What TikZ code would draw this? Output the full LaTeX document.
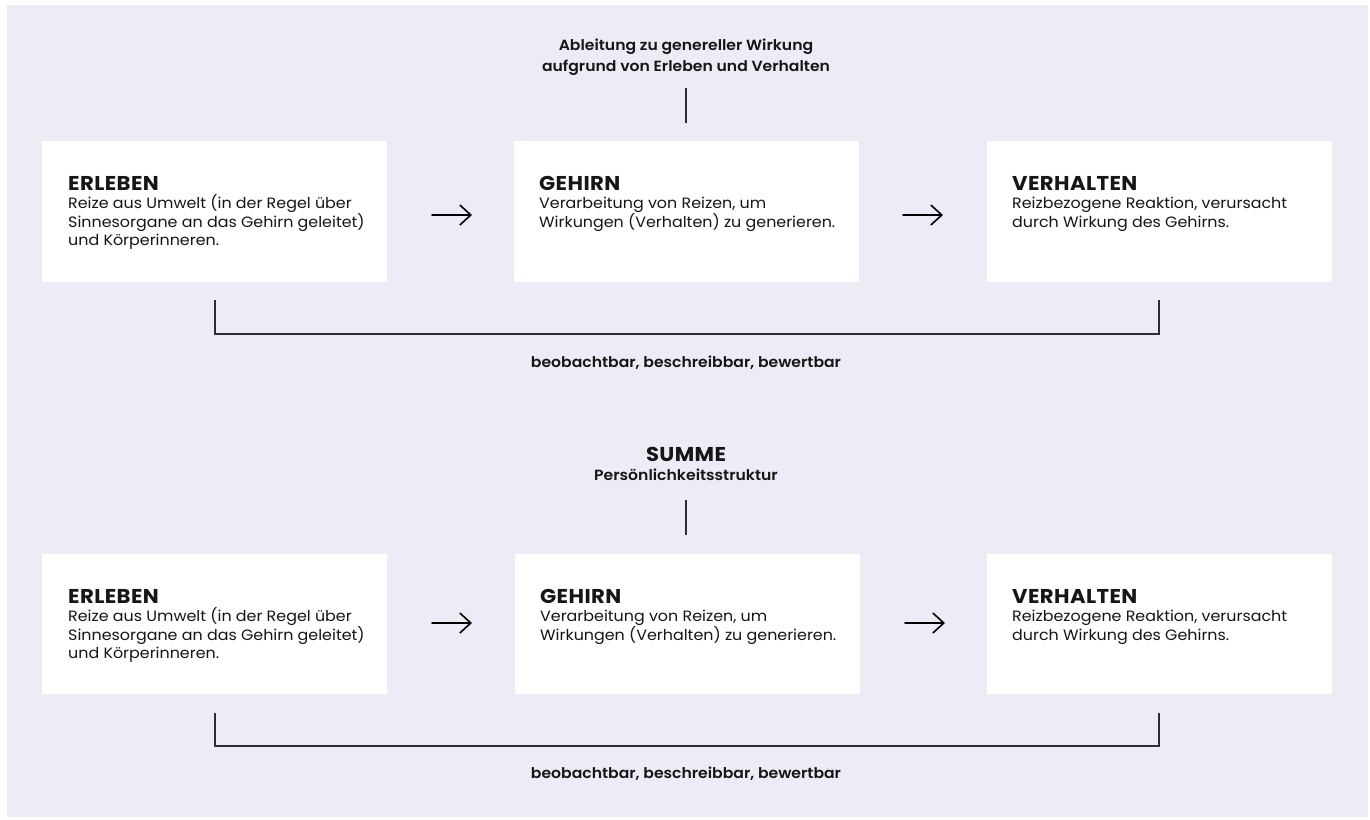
\documentclass[tikz,border=0pt]{standalone}
\usepackage{fontspec}
\setmainfont{Poppins}[FakeStretch=1.06]
\newfontfamily\semifont{Poppins SemiBold}[FakeStretch=1.06]
\usetikzlibrary{arrows.meta,calc}
\definecolor{bg}{RGB}{236,236,246}
\definecolor{ink}{RGB}{22,22,22}
\definecolor{rulec}{RGB}{45,45,50}

\tikzset{
  box/.style={fill=white, inner sep=0, minimum width=345pt, minimum height=141pt, anchor=north west},
  boxtext/.style={anchor=north west, inner sep=0, align=left, text=ink,
    font=\fontsize{15}{18.5}\selectfont},
  notetext/.style={align=center, inner sep=0, text=ink,
    font=\semifont\fontsize{14.75}{19}\selectfont},
  flow/.style={line width=1.6pt, -{Straight Barb[length=11pt,width=20pt]}, line cap=round},
  rulel/.style={line width=1.3pt, draw=rulec},
}
\newcommand\boxtitle[1]{\rule{0pt}{20pt}{\fontsize{20}{18.5}\selectfont\bfseries\addfontfeature{LetterSpace=2}#1}}

\begin{document}
\setlength\lineskiplimit{-30pt}
\begin{tikzpicture}[x=1pt,y=1pt]
  % canvas
  \useasboundingbox (0,0) rectangle (1370,-819);
  \fill[white] (0,0) rectangle (1370,-819);
  \fill[bg] (7,-5) rectangle (1368,-817);

  % ---------- upper row ----------
  \node[notetext, anchor=north] (abl) at (686,-35)
    {\rule{0pt}{15pt}Ableitung zu genereller Wirkung\\[2pt]aufgrund von Erleben und Verhalten};
  \coordinate (abltop) at (686,-88);
  \coordinate (ablbot) at (686,-123);
  \draw[rulel] (abltop) -- (ablbot);

  \node[box] (erl1) at (42,-141) {};
  \node[box] (geh1) at (514,-141) {};
  \node[box] (ver1) at (987,-141) {};

  \node[boxtext] (erl1t) at ($(erl1.north west)+(26,-29)$)
    {\boxtitle{ERLEBEN}\\Reize aus Umwelt (in der Regel über\\Sinnesorgane an das Gehirn geleitet)\\und Körperinneren.};
  \node[boxtext] (geh1t) at ($(geh1.north west)+(25,-29)$)
    {\boxtitle{GEHIRN}\\Verarbeitung von Reizen, um\\Wirkungen (Verhalten) zu generieren.};
  \node[boxtext] (ver1t) at ($(ver1.north west)+(25,-29)$)
    {\boxtitle{VERHALTEN}\\Reizbezogene Reaktion, verursacht\\durch Wirkung des Gehirns.};

  \coordinate (a1s) at (432,-215);
  \coordinate (a1e) at (472,-215);
  \coordinate (a2s) at (903,-215);
  \coordinate (a2e) at (943,-215);
  \draw[flow] (a1s) -- (a1e);
  \draw[flow] (a2s) -- (a2e);

  \coordinate (b1l) at (215,-300);
  \coordinate (b1r) at (1159,-300);
  \draw[rulel] (b1l) |- (b1r |- 0,-334) -- (b1r);
  \node[notetext, anchor=base] (obs1) at (686,-367) {beobachtbar, beschreibbar, bewertbar};

  % ---------- lower row ----------
  \node[notetext, anchor=north] (sum) at (686,-441)
    {\rule{0pt}{20pt}{\rmfamily\bfseries\fontsize{20}{19}\selectfont\addfontfeature{LetterSpace=2}SUMME}\\Persönlichkeitsstruktur};
  \coordinate (sumtop) at (686,-500);
  \coordinate (sumbot) at (686,-535);
  \draw[rulel] (sumtop) -- (sumbot);

  \node[box, minimum height=140pt] (erl2) at (42,-554) {};
  \node[box, minimum height=140pt] (geh2) at (515,-554) {};
  \node[box, minimum height=140pt] (ver2) at (987,-554) {};

  \node[boxtext] (erl2t) at ($(erl2.north west)+(26,-29)$)
    {\boxtitle{ERLEBEN}\\Reize aus Umwelt (in der Regel über\\Sinnesorgane an das Gehirn geleitet)\\und Körperinneren.};
  \node[boxtext] (geh2t) at ($(geh2.north west)+(25,-29)$)
    {\boxtitle{GEHIRN}\\Verarbeitung von Reizen, um\\Wirkungen (Verhalten) zu generieren.};
  \node[boxtext] (ver2t) at ($(ver2.north west)+(25,-29)$)
    {\boxtitle{VERHALTEN}\\Reizbezogene Reaktion, verursacht\\durch Wirkung des Gehirns.};

  \coordinate (a3s) at (432,-623);
  \coordinate (a3e) at (472,-623);
  \coordinate (a4s) at (905,-623);
  \coordinate (a4e) at (945,-623);
  \draw[flow] (a3s) -- (a3e);
  \draw[flow] (a4s) -- (a4e);

  \coordinate (b2l) at (215,-713);
  \coordinate (b2r) at (1159,-713);
  \draw[rulel] (b2l) |- (b2r |- 0,-746) -- (b2r);
  \node[notetext, anchor=base] (obs2) at (686,-778) {beobachtbar, beschreibbar, bewertbar};
\end{tikzpicture}
\end{document}
